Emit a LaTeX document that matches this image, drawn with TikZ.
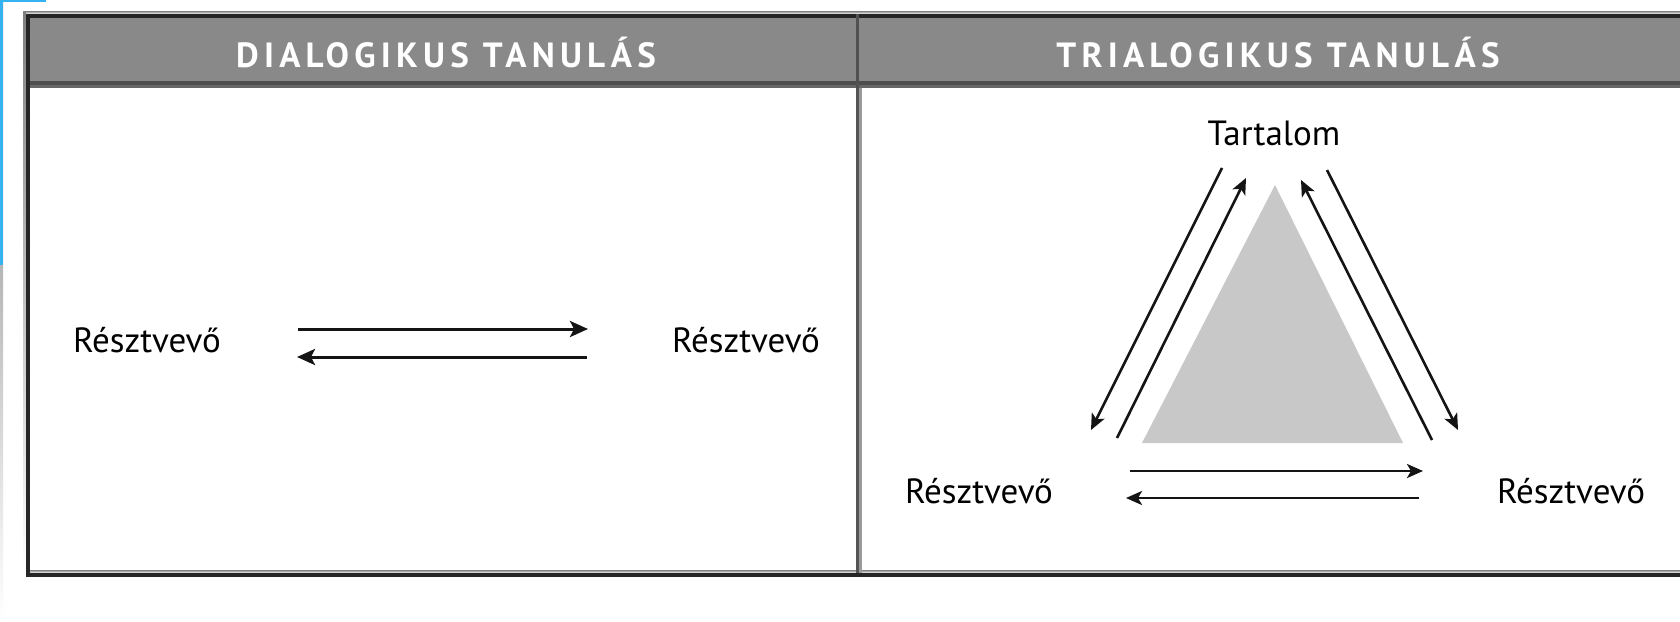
\documentclass[tikz,border=0pt]{standalone}
\usepackage{fontspec}
\setmainfont{PT Sans}
\usetikzlibrary{arrows.meta}

\definecolor{headgray}{HTML}{898989}
\definecolor{framedark}{HTML}{262626}
\definecolor{hlineA}{HTML}{4E4E4E}
\definecolor{hlineB}{HTML}{666666}
\definecolor{divA}{HTML}{555555}
\definecolor{divB}{HTML}{9A9A9A}
\definecolor{shade}{HTML}{E8E8E8}
\definecolor{edgeblue}{HTML}{35B2F0}
\definecolor{trifill}{HTML}{C8C8C8}
\definecolor{arrowdark}{HTML}{141414}

\tikzset{
  headtext/.style={font=\fontsize{35}{38}\selectfont\bfseries\addfontfeatures{LetterSpace=15}, text=white, anchor=base, inner sep=0pt},
  label/.style={font=\fontsize{35}{38}\selectfont, text=black, anchor=base, inner sep=0pt},
  flow/.style={draw=arrowdark, line width=3pt, -{Stealth[length=18pt,width=16pt,inset=4pt]}},
  trflow/.style={draw=arrowdark, line width=2.6pt, -{Stealth[length=16pt,width=14pt,inset=4pt]}},
}

\begin{document}
\begin{tikzpicture}[x=1pt,y=-1pt]
\useasboundingbox (0,0) rectangle (1680,621);
\fill[white] (0,0) rectangle (1680,621);

% window edge on the far left
\fill[shade] (0,0) rectangle (3,621);
\fill[edgeblue] (0,0) rectangle (3,265);
\fill[edgeblue] (0,0) rectangle (46,1.5);

% soft shading around the table frame
\fill[shade] (23,11) rectangle (1680,14);
\fill[shade] (23,11) rectangle (26,573);
\fill[shade] (30,570) rectangle (1680,573);

% header band
\fill[headgray] (26,14) rectangle (1680,88);
\fill[framedark] (26,14) rectangle (1680,18);
\fill[hlineA] (26,81) rectangle (1680,85);
\fill[hlineB] (26,85) rectangle (1680,88);

% outer frame
\fill[framedark] (26,14) rectangle (30,577);
\fill[framedark] (26,573) rectangle (1680,577);

% column divider
\fill[framedark!80] (856,14) rectangle (859,88);
\fill[divA] (856,88) rectangle (859,573);
\fill[divB] (859,88) rectangle (862,573);

% column titles
\node[headtext] (hdl) at (446,67) {DIALOGIKUS TANULÁS};
\node[headtext] (htr) at (1278,67) {TRIALOGIKUS TANULÁS};

% dialogic learning
\node[label] (pa) at (147,352) {Résztvevő};
\node[label] (pb) at (746,352) {Résztvevő};
\coordinate (pa1) at (298,329);
\coordinate (pb1) at (588,329);
\coordinate (pa2) at (297,357);
\coordinate (pb2) at (587,357);
\draw[flow] (pa1) -- (pb1);
\draw[flow] (pb2) -- (pa2);

% trialogic learning
\fill[trifill] (1275,185) -- (1142,443) -- (1403,443) -- cycle;
\node[label] (tc) at (1274,145) {Tartalom};
\node[label] (tl) at (979,503) {Résztvevő};
\node[label] (tr) at (1571,503) {Résztvevő};

\coordinate (lo1) at (1222,168);
\coordinate (lo2) at (1091,430);
\coordinate (li1) at (1117,438);
\coordinate (li2) at (1246,178);
\coordinate (ri1) at (1432,440);
\coordinate (ri2) at (1301,180);
\coordinate (ro1) at (1327,170);
\coordinate (ro2) at (1458,430);
\coordinate (bu1) at (1130,471);
\coordinate (bu2) at (1423,471);
\coordinate (bl1) at (1419,498);
\coordinate (bl2) at (1126,498);

\draw[trflow] (lo1) -- (lo2);
\draw[trflow] (li1) -- (li2);
\draw[trflow] (ri1) -- (ri2);
\draw[trflow] (ro1) -- (ro2);
\draw[trflow] (bu1) -- (bu2);
\draw[trflow] (bl1) -- (bl2);
\end{tikzpicture}
\end{document}
